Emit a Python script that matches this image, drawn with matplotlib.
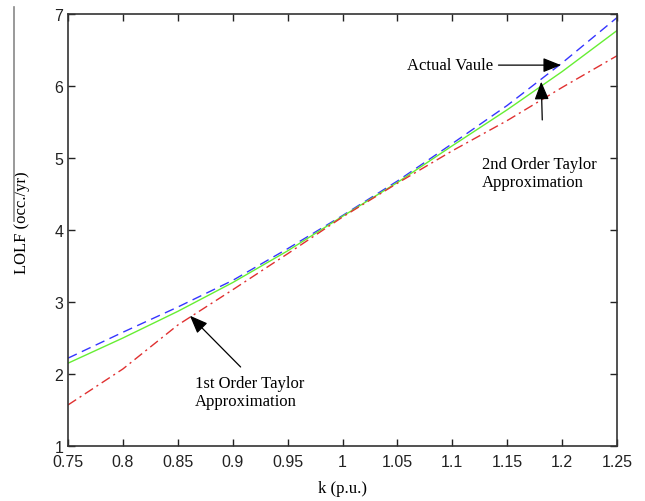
import numpy as np
import matplotlib
matplotlib.use("Agg")
import matplotlib.pyplot as plt
from matplotlib.lines import Line2D

# values
k = [0.75, 0.80, 0.85, 0.90, 0.95, 1.00, 1.05, 1.10, 1.15, 1.20, 1.25]
actual = [2.22, 2.58, 2.93, 3.30, 3.74, 4.20, 4.68, 5.20, 5.73, 6.32, 6.95]
taylor2 = [2.15, 2.50, 2.87, 3.27, 3.71, 4.19, 4.66, 5.17, 5.67, 6.20, 6.77]
taylor1 = [1.57, 2.07, 2.68, 3.17, 3.67, 4.18, 4.65, 5.10, 5.52, 5.98, 6.42]

xticks = [0.75, 0.8, 0.85, 0.9, 0.95, 1, 1.05, 1.1, 1.15, 1.2, 1.25]
xticklabels = ["0.75", "0.8", "0.85", "0.9", "0.95", "1", "1.05", "1.1", "1.15", "1.2", "1.25"]
yticks = [1, 2, 3, 4, 5, 6, 7]

serif = "Liberation Serif"
sans = "Liberation Sans"

fig = plt.figure(figsize=(6.45, 5.02), dpi=100)
ax = fig.add_axes([68/645, 1-447/502, (617-68)/645, (447-15)/502])

ax.plot(k, actual, color="#3535ff", ls=(0, (7, 4)), lw=1.0)
ax.plot(k, taylor2, color="#66ee33", ls="-", lw=1.0)
ax.plot(k, taylor1, color="#e03030", ls=(0, (7, 3, 1.5, 3)), lw=1.0)

ax.set_xlim(0.75, 1.25)
ax.set_ylim(1, 7)
ax.set_xticks(xticks)
ax.set_xticklabels(xticklabels, fontfamily=sans, fontsize=11.5)
ax.set_yticks(yticks)
ax.set_yticklabels([str(v) for v in yticks], fontfamily=sans, fontsize=11.5)
ax.tick_params(direction="in", length=5, width=1, top=True, right=True, colors="#222222")
ax.tick_params(axis="x", pad=6)
for s in ax.spines.values():
    s.set_linewidth(1.2)
    s.set_color("#333333")

ax.set_xlabel("k (p.u.)", fontfamily=serif, fontsize=12, labelpad=8)
ax.set_ylabel("LOLF (occ./yr)", fontfamily=serif, fontsize=12)
ax.yaxis.set_label_coords(-0.069, 0.52)

arr = dict(arrowstyle="-|>,head_length=0.55,head_width=0.22", color="black",
           lw=0.9, mutation_scale=20, shrinkA=2, shrinkB=0)

# Actual value
ax.annotate("Actual Vaule", xy=(1.199, 6.29), xytext=(1.137, 6.29),
            fontfamily=serif, fontsize=12, ha="right", va="center", arrowprops=arr)

# 2nd order
ax.text(1.127, 5.03, "2nd Order Taylor\nApproximation", fontfamily=serif, fontsize=12,
        ha="left", va="top", linespacing=1.15)
ax.annotate("", xy=(1.181, 6.06), xytext=(1.182, 5.49), arrowprops=arr)

# 1st order
ax.text(0.8657, 1.99, "1st Order Taylor\nApproximation", fontfamily=serif, fontsize=12,
        ha="left", va="top", linespacing=1.15)
ax.annotate("", xy=(0.861, 2.81), xytext=(0.909, 2.07), arrowprops=arr)

# stray frame line at the left edge of the scan
fig.add_artist(Line2D([14/645, 14/645], [1-8/502, 1-222/502], color="#888888", lw=1.2))

fig.savefig("out.png", dpi=100)
